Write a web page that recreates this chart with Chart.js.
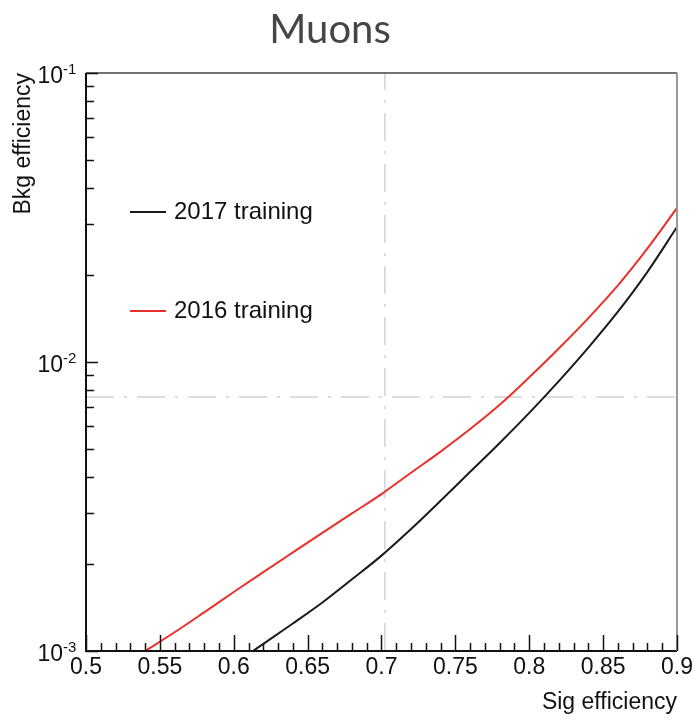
<!DOCTYPE html>
<html>
<head>
<meta charset="utf-8">
<script src="https://cdn.jsdelivr.net/npm/chart.js@4/dist/chart.umd.min.js"></script>
<style>
  html, body { margin: 0; padding: 0; background: #fff; }
  #wrap { width: 696px; height: 724px; }
</style>
</head>
<body>
<div id="wrap"><canvas id="roc" width="696" height="724"></canvas></div>
<script>
// ROC curves, background efficiency vs signal efficiency
const sig2017 = [0.613, 0.62, 0.64, 0.66, 0.68, 0.70, 0.72, 0.74, 0.76, 0.78, 0.80, 0.82, 0.84, 0.86, 0.88, 0.90];
const bkg2017 = [0.00100, 0.001059, 0.001245, 0.001472, 0.00177, 0.002138, 0.002642, 0.003311, 0.004169, 0.005248, 0.006668, 0.008590, 0.01122, 0.01493, 0.02051, 0.02931];

const sig2016 = [0.540, 0.56, 0.58, 0.60, 0.62, 0.64, 0.66, 0.68, 0.70, 0.72, 0.74, 0.76, 0.78, 0.80, 0.82, 0.84, 0.86, 0.88, 0.90];
const bkg2016 = [0.00100, 0.001161, 0.001361, 0.0016, 0.001875, 0.002193, 0.002564, 0.002992, 0.003491, 0.00414, 0.004898, 0.005861, 0.007112, 0.008851, 0.01114, 0.01419, 0.01841, 0.02472, 0.03412];

// working point (dash-dot cross)
const wpSig = 0.7023;
const wpBkg = 0.00757;

const sigTicks = [0.5, 0.55, 0.6, 0.65, 0.7, 0.75, 0.8, 0.85, 0.9];
const sigTickLabels = ['0.5', '0.55', '0.6', '0.65', '0.7', '0.75', '0.8', '0.85', '0.9'];
const bkgDecades = [0.001, 0.01, 0.1];

const FONT = "'Liberation Sans', Arial, Helvetica, sans-serif";

function pts(xs, ys) {
  return xs.map((x, i) => ({ x: x, y: ys[i] }));
}

// ROOT style frame, inner ticks, exponent labels, title and key
const rootStyle = {
  id: 'rootStyle',
  afterDraw(chart) {
    const ctx = chart.ctx;
    const a = chart.chartArea;
    const xs = chart.scales.x;
    const ys = chart.scales.y;
    ctx.save();

    // frame
    ctx.strokeStyle = '#111';
    ctx.lineWidth = 2;
    ctx.beginPath();
    ctx.moveTo(a.left, a.top);
    ctx.lineTo(a.left, a.bottom);
    ctx.lineTo(a.right, a.bottom);
    ctx.stroke();
    ctx.lineWidth = 1.5;
    ctx.strokeStyle = '#444';
    ctx.beginPath();
    ctx.moveTo(a.left, a.top);
    ctx.lineTo(a.right, a.top);
    ctx.stroke();
    ctx.strokeStyle = '#999';
    ctx.lineWidth = 2;
    ctx.beginPath();
    ctx.moveTo(a.right, a.top);
    ctx.lineTo(a.right, a.bottom);
    ctx.stroke();

    // x ticks pointing inward
    ctx.strokeStyle = '#111';
    ctx.lineWidth = 1.5;
    ctx.beginPath();
    for (let i = 0; i <= 40; i++) {
      const v = 0.5 + i * 0.01;
      const px = Math.round(xs.getPixelForValue(v)) + 0.5;
      const len = (i % 5 === 0) ? 16 : 8;
      ctx.moveTo(px, a.bottom);
      ctx.lineTo(px, a.bottom - len);
    }
    ctx.stroke();

    // y ticks, log decades with minor ticks
    ctx.beginPath();
    bkgDecades.forEach((d, j) => {
      const py = Math.round(ys.getPixelForValue(d)) + 0.5;
      ctx.moveTo(a.left, py);
      ctx.lineTo(a.left + 12, py);
      if (j < bkgDecades.length - 1) {
        for (let k = 2; k <= 9; k++) {
          const my = Math.round(ys.getPixelForValue(d * k)) + 0.5;
          ctx.moveTo(a.left, my);
          ctx.lineTo(a.left + 8, my);
        }
      }
    });
    ctx.stroke();

    // y labels as 10^n
    ctx.fillStyle = '#111';
    bkgDecades.forEach(d => {
      const py = ys.getPixelForValue(d);
      const e = Math.round(Math.log10(d));
      ctx.font = '23px ' + FONT;
      ctx.textAlign = 'right';
      ctx.textBaseline = 'alphabetic';
      ctx.fillText('10', a.left - 23, py + 10);
      ctx.font = '15px ' + FONT;
      ctx.textAlign = 'left';
      ctx.fillText('-' + Math.abs(e), a.left - 23, py + 1);
    });

    // title
    ctx.fillStyle = '#454545';
    ctx.font = '40px Lato, ' + FONT;
    ctx.textAlign = 'center';
    ctx.textBaseline = 'alphabetic';
    ctx.fillText('Muons', 330, 43);

    // key
    const keyRows = chart.data.datasets.filter(ds => ds.inKey);
    keyRows.forEach((ds, i) => {
      const y = 212 + i * 99;
      ctx.strokeStyle = ds.borderColor;
      ctx.lineWidth = 1.8;
      ctx.beginPath();
      ctx.moveTo(130, y);
      ctx.lineTo(166, y);
      ctx.stroke();
      ctx.fillStyle = '#111';
      ctx.font = '24px ' + FONT;
      ctx.textAlign = 'left';
      ctx.textBaseline = 'middle';
      ctx.fillText(ds.label, 174, y);
    });

    ctx.restore();
  }
};

new Chart(document.getElementById('roc'), {
  type: 'line',
  data: {
    datasets: [
      {
        label: '2017 training',
        inKey: true,
        data: pts(sig2017, bkg2017),
        borderColor: '#1a1a1a',
        borderWidth: 2,
        pointRadius: 0,
        cubicInterpolationMode: 'monotone',
        order: 0
      },
      {
        label: '2016 training',
        inKey: true,
        data: pts(sig2016, bkg2016),
        borderColor: '#e8302c',
        borderWidth: 2,
        pointRadius: 0,
        cubicInterpolationMode: 'monotone',
        order: 0
      },
      {
        label: 'wp sig',
        data: [{ x: wpSig, y: bkgDecades[0] }, { x: wpSig, y: bkgDecades[2] }],
        borderColor: '#d2d2d2',
        borderWidth: 1.5,
        borderDash: [28, 10, 3, 10],
        pointRadius: 0,
        order: 1
      },
      {
        label: 'wp bkg',
        data: [{ x: sigTicks[0], y: wpBkg }, { x: sigTicks[8], y: wpBkg }],
        borderColor: '#d2d2d2',
        borderWidth: 1.5,
        borderDash: [28, 10, 3, 10],
        pointRadius: 0,
        order: 1
      }
    ]
  },
  options: {
    responsive: false,
    animation: false,
    layout: { padding: { top: 73, right: 19, left: 0, bottom: 0 } },
    plugins: {
      legend: { display: false },
      tooltip: { enabled: false }
    },
    scales: {
      x: {
        type: 'linear',
        min: 0.5,
        max: 0.9,
        afterFit(s) { s.height = 73; },
        afterBuildTicks(s) { s.ticks = sigTicks.map(v => ({ value: v })); },
        grid: { display: false, drawTicks: false },
        border: { display: false },
        ticks: {
          autoSkip: false,
          maxRotation: 0,
          padding: 3,
          color: '#111',
          font: { family: FONT, size: 23 },
          callback: (v, i) => sigTickLabels[i]
        },
        title: {
          display: true,
          text: 'Sig efficiency',
          align: 'end',
          color: '#111',
          font: { family: FONT, size: 23 },
          padding: { top: 0, bottom: 8 }
        }
      },
      y: {
        type: 'logarithmic',
        min: 0.001,
        max: 0.1,
        afterFit(s) { s.width = 86; },
        grid: { display: false, drawTicks: false },
        border: { display: false },
        ticks: { display: false },
        title: {
          display: true,
          text: 'Bkg efficiency',
          align: 'end',
          color: '#111',
          font: { family: FONT, size: 23 },
          padding: { top: 10, bottom: 0 }
        }
      }
    }
  },
  plugins: [rootStyle]
});
</script>
</body>
</html>
